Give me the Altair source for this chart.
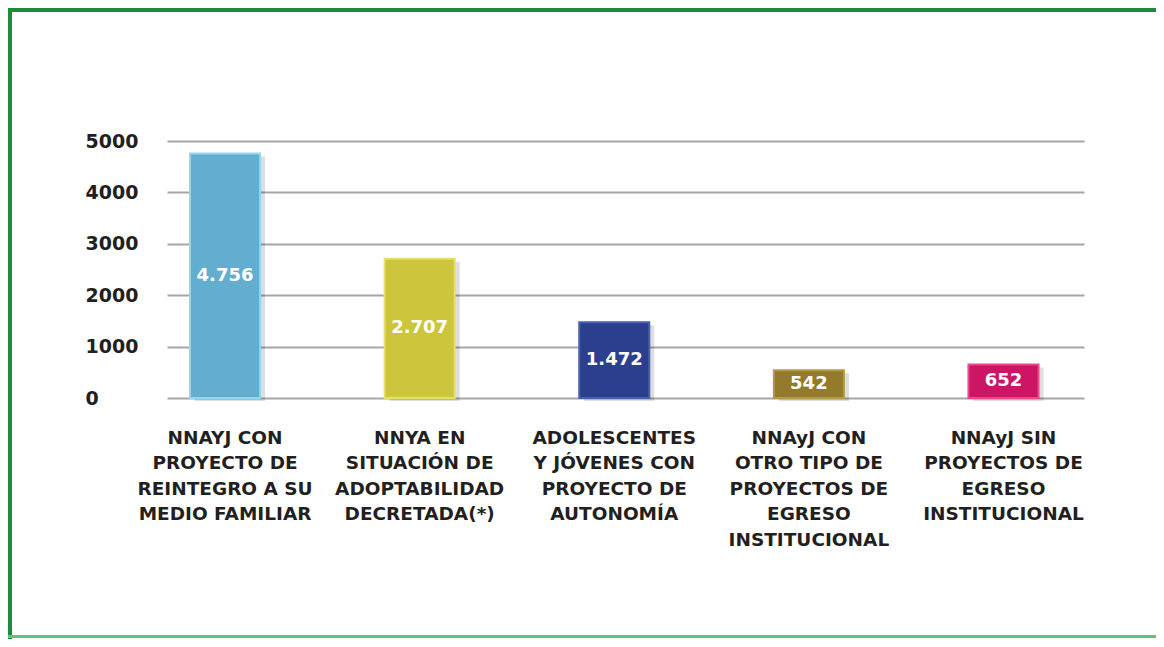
import altair as alt
import pandas as pd

categories = [
    "NNAYJ CON\nPROYECTO DE\nREINTEGRO A SU\nMEDIO FAMILIAR",
    "NNYA EN\nSITUACIÓN DE\nADOPTABILIDAD\nDECRETADA(*)",
    "ADOLESCENTES\nY JÓVENES CON\nPROYECTO DE\nAUTONOMÍA",
    "NNAyJ CON\nOTRO TIPO DE\nPROYECTOS DE\nEGRESO\nINSTITUCIONAL",
    "NNAyJ SIN\nPROYECTOS DE\nEGRESO\nINSTITUCIONAL",
]
values = [4756, 2707, 1472, 542, 652]
bar_colors = ["#63aed0", "#cdc63c", "#2c3f8f", "#947a2b", "#cc1565"]
edge_colors = ["#92d6f0", "#e4df6a", "#4a5fae", "#b39a48", "#e64a8a"]
y_ticks = [0, 1000, 2000, 3000, 4000, 5000]

df = pd.DataFrame({"cat": categories, "val": values})

FONT = "DejaVu Sans"
TXT = "#231f20"

x_enc = alt.X(
    "cat:N",
    sort=None,
    scale=alt.Scale(paddingInner=0.64, paddingOuter=0.176, align=0.336),
    axis=alt.Axis(
        title=None,
        labelAngle=0,
        labelExpr="split(datum.label, '\\n')",
        labelFont=FONT,
        labelFontWeight="bold",
        labelFontSize=18.5,
        labelColor=TXT,
        labelLineHeight=25.5,
        labelBaseline="top",
        labelPadding=30,
        labelLimit=0,
        domain=False,
        ticks=False,
        tickSize=0,
        grid=False,
        labelAlign="center",
    ),
)
y_enc = alt.Y(
    "val:Q",
    scale=alt.Scale(domain=[0, 5000], nice=False),
    axis=alt.Axis(
        title=None,
        values=y_ticks,
        format="d",
        grid=True,
        gridColor="#a6a6a6",
        gridWidth=2,
        domain=False,
        ticks=False,
        tickSize=0,
        labelAlign="left",
        labelPadding=82,
        labelFont=FONT,
        labelFontWeight="bold",
        labelFontSize=19,
        labelColor=TXT,
        labelBaseline="middle",
    ),
)

color_enc = alt.Color(
    "cat:N", sort=None,
    scale=alt.Scale(domain=categories, range=bar_colors), legend=None
)
stroke_enc = alt.Stroke(
    "cat:N", sort=None,
    scale=alt.Scale(domain=categories, range=edge_colors), legend=None
)

base = alt.Chart(df)

shadow = base.mark_bar(color="#000000", opacity=0.13, xOffset=5, yOffset=3).encode(
    x=x_enc, y=y_enc
)
bars = base.mark_bar(strokeWidth=2).encode(x=x_enc, y=y_enc, color=color_enc, stroke=stroke_enc)
labels = base.transform_calculate(mid="datum.val / 2").mark_text(
    font=FONT, fontWeight="bold", fontSize=18, color="white", baseline="middle"
).encode(x=alt.X("cat:N", sort=None), y=alt.Y("mid:Q"), text=alt.Text("val:Q", format=",d"))

# decorative frame
frame_top_light = alt.Chart(df).mark_rule(color="#4dbb6a", strokeWidth=3).encode(
    x=alt.value(-163), x2=alt.value(1000), y=alt.value(-135.5)
)
frame_top_dark = alt.Chart(df).mark_rule(color="#1b8a3b", strokeWidth=5).encode(
    x=alt.value(-163), x2=alt.value(1000), y=alt.value(-131.5)
)
frame_left_light = alt.Chart(df).mark_rule(color="#3fba5e", strokeWidth=3).encode(
    x=alt.value(-161.5), y=alt.value(-137), y2=alt.value(506)
)
frame_left_dark = alt.Chart(df).mark_rule(color="#1d8c3c", strokeWidth=5).encode(
    x=alt.value(-157.5), y=alt.value(-137), y2=alt.value(506)
)
frame_bottom = alt.Chart(df).mark_rule(color="#5dc67c", strokeWidth=3).encode(
    x=alt.value(-163), x2=alt.value(1000), y=alt.value(495.5)
)

chart = alt.layer(
    shadow, bars, labels,
    frame_top_light, frame_top_dark, frame_left_light, frame_left_dark, frame_bottom,
).properties(
    width=917,
    height=257,
    autosize=alt.AutoSizeParams(type="none"),
    padding={"left": 159, "top": 133, "right": 72, "bottom": 241},
).configure(
    background="white",
    view=alt.ViewConfig(stroke=None, strokeWidth=0),
    locale={"number": {"decimal": ",", "thousands": ".", "grouping": [3], "currency": ["$", ""]}},
)

chart.save("out.html", embed_options={"renderer": "svg", "actions": False})
